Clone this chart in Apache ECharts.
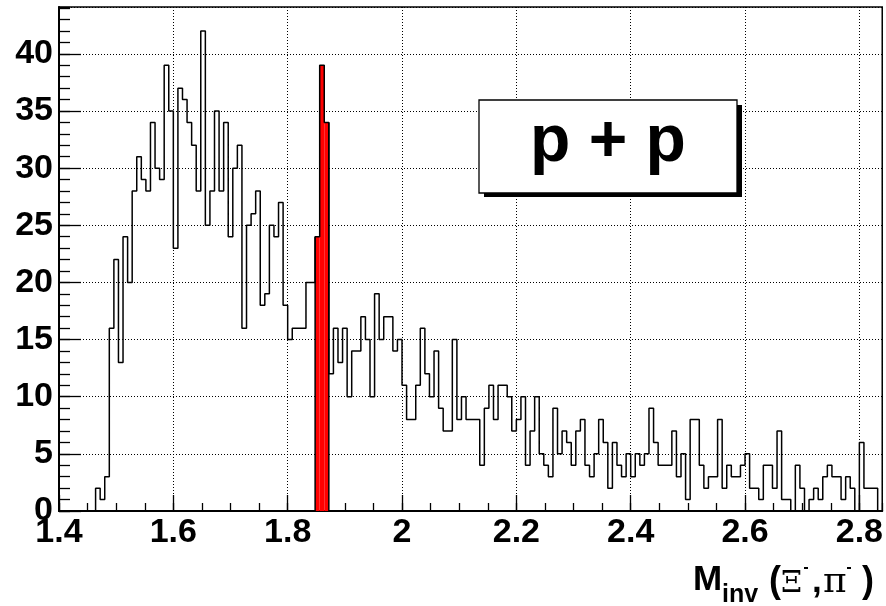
<!DOCTYPE html>
<html>
<head>
<meta charset="utf-8">
<script src="https://cdn.jsdelivr.net/npm/echarts@6/dist/echarts.min.js"></script>
<style>
html,body{margin:0;padding:0;background:#fff;}
#c{width:886px;height:606px;}
</style>
</head>
<body>
<div id="c"></div>
<script>
// ---- data ----
const XMIN = 1.4;
const XMAX = 2.84;
const YMAX = 44.1;
const counts = [
  0,0,0,0,0,0,0,0,2,1, 3,16,22,13,24,20,28,31,29,28,
  34,30,29,39,35,23,37,36,34,32, 28,42,25,28,35,28,34,24,30,32,
  16,25,26,28,18,19,25,24,27,18, 15,16,16,16,20,20,24,39,34,12,
  16,13,16,10,14,14,17,15,10,19, 15,17,17,14,15,11,8,8,11,16,
  12,10,14,9,7,7,15,8,10,8, 8,8,4,9,11,8,11,11,10,7,
  8,10,4,7,10,5,4,3,9,5, 7,6,4,7,8,4,3,5,8,6,
  2,6,4,3,5,3,5,4,5,9, 6,4,4,4,7,3,5,1,8,8,
  4,2,3,3,8,2,4,3,3,4, 5,2,2,1,4,4,2,7,1,1,
  0,4,2,0,1,2,1,3,4,3, 3,1,3,2,0,6,2,2,2,0
];
const redBins = [56, 57, 58];
const xTickLabels = ['1.4','1.6','1.8','2','2.2','2.4','2.6','2.8'];
const yTickLabels = ['0','5','10','15','20','25','30','35','40'];

const NB = counts.length;
const BW = (XMAX - XMIN) / NB;
const lineData = counts.map((v, i) => [XMIN + i * BW, v]).concat([[XMAX, counts[NB - 1]]]);
const redData = redBins.map(i => [XMIN + i * BW, XMIN + (i + 1) * BW, counts[i]]);

const chart = echarts.init(document.getElementById('c'), null, {renderer: 'canvas'});
const FONT = 'Liberation Sans';

const option = {
  animation: false,
  backgroundColor: '#fff',
  grid: {left: 59, top: 7, width: 824, height: 504, show: true, borderColor: '#000', borderWidth: 1.5, backgroundColor: 'transparent'},
  xAxis: [
    {
      type: 'value', min: XMIN, max: XMAX, interval: 0.2, position: 'bottom',
      axisLine: {show: true, onZero: false, lineStyle: {color: '#000', width: 2}},
      axisTick: {show: true, inside: true, length: 16, lineStyle: {color: '#000', width: 1.3}},
      axisLabel: {
        show: true, margin: 5, color: '#000', fontFamily: FONT, fontWeight: 'bold', fontSize: 34,
        showMaxLabel: false,
        formatter: function (v) {
          const k = Math.round((v - XMIN) / 0.2);
          if (Math.abs(XMIN + k * 0.2 - v) > 1e-6) return '';
          return xTickLabels[k] || '';
        }
      },
      splitLine: {show: true, lineStyle: {color: '#000', width: 1, type: [1, 2]}}
    },
    {
      type: 'value', min: XMIN, max: XMAX, interval: 0.05, position: 'bottom',
      axisLine: {show: false},
      axisTick: {show: true, inside: true, length: 8, lineStyle: {color: '#000', width: 1.3}},
      axisLabel: {show: false},
      splitLine: {show: false}
    }
  ],
  yAxis: [
    {
      type: 'value', min: 0, max: YMAX, interval: 5, position: 'left',
      axisLine: {show: true, onZero: false, lineStyle: {color: '#000', width: 2}},
      axisTick: {show: true, inside: true, length: 22, lineStyle: {color: '#000', width: 1.3}},
      axisLabel: {
        show: true, margin: 6, color: '#000', fontFamily: FONT, fontWeight: 'bold', fontSize: 34,
        showMaxLabel: false, padding: [5, 0, 0, 0],
        formatter: function (v) {
          const k = Math.round(v / 5);
          if (Math.abs(k * 5 - v) > 1e-6) return '';
          return yTickLabels[k] || '';
        }
      },
      splitLine: {show: true, lineStyle: {color: '#000', width: 1, type: [1, 2]}}
    },
    {
      type: 'value', min: 0, max: YMAX, interval: 1, position: 'left',
      axisLine: {show: false},
      axisTick: {show: true, inside: true, length: 11, lineStyle: {color: '#000', width: 1.3}},
      axisLabel: {show: false},
      splitLine: {show: false}
    }
  ],
  series: [
    {
      type: 'custom', xAxisIndex: 0, yAxisIndex: 0, z: 3,
      data: redData,
      encode: {x: [0, 1], y: 2},
      renderItem: function (params, api) {
        const p0 = api.coord([api.value(0), api.value(2)]);
        const p1 = api.coord([api.value(1), 0]);
        const children = [{
          type: 'rect',
          shape: {x: p0[0], y: p0[1], width: p1[0] - p0[0], height: p1[1] - p0[1]},
          style: {fill: '#ff0000', stroke: null}
        }];
        if (params.dataIndex === 0) {
          children.push({type: 'line', shape: {x1: p0[0], y1: p0[1], x2: p0[0], y2: p1[1]}, style: {stroke: '#000', lineWidth: 1.5}});
        }
        if (params.dataIndex === redData.length - 1) {
          children.push({type: 'line', shape: {x1: p1[0], y1: p0[1], x2: p1[0], y2: p1[1]}, style: {stroke: '#000', lineWidth: 1.5}});
        }
        return {type: 'group', children: children};
      }
    },
    {
      type: 'line', xAxisIndex: 0, yAxisIndex: 0, z: 4,
      step: 'end', showSymbol: false, symbol: 'none',
      data: lineData,
      lineStyle: {color: '#000', width: 1.5},
      clip: true
    }
  ],
  graphic: [
    {type: 'rect', z: 10, shape: {x: 484, y: 105, width: 258, height: 92}, style: {fill: '#000'}},
    {type: 'rect', z: 11, shape: {x: 479, y: 100, width: 258, height: 93}, style: {fill: '#fff', stroke: '#000', lineWidth: 1.3}},
    {type: 'text', z: 12, x: 608, y: 143, style: {text: 'p + p', font: 'bold 66px "Liberation Sans"', fill: '#000', align: 'center', verticalAlign: 'middle'}},
    {type: 'text', z: 12, x: 693, y: 580, style: {text: 'M', font: 'bold 35px "Liberation Sans"', fill: '#000', align: 'left', verticalAlign: 'middle'}},
    {type: 'text', z: 12, x: 722, y: 595, style: {text: 'inv', font: 'bold 25px "Liberation Sans"', fill: '#000', align: 'left', verticalAlign: 'middle'}},
    {type: 'text', z: 12, x: 769, y: 582, style: {text: '(', font: 'bold 36px "Liberation Sans"', fill: '#000', align: 'left', verticalAlign: 'middle'}},
    {type: 'text', z: 12, x: 781, y: 584, style: {text: 'Ξ', font: '30px "DejaVu Serif"', fill: '#000', align: 'left', verticalAlign: 'middle'}},
    {type: 'rect', z: 12, shape: {x: 804, y: 567, width: 4, height: 2}, style: {fill: '#000'}},
    {type: 'text', z: 12, x: 812, y: 582, style: {text: ',', font: 'bold 35px "Liberation Sans"', fill: '#000', align: 'left', verticalAlign: 'middle'}},
    {type: 'text', z: 12, x: 823, y: 583, style: {text: 'π', font: '36px "DejaVu Serif"', fill: '#000', align: 'left', verticalAlign: 'middle'}},
    {type: 'rect', z: 12, shape: {x: 847, y: 567, width: 4, height: 2}, style: {fill: '#000'}},
    {type: 'text', z: 12, x: 862, y: 582, style: {text: ')', font: 'bold 36px "Liberation Sans"', fill: '#000', align: 'left', verticalAlign: 'middle'}}
  ]
};
chart.setOption(option);
</script>
</body>
</html>
